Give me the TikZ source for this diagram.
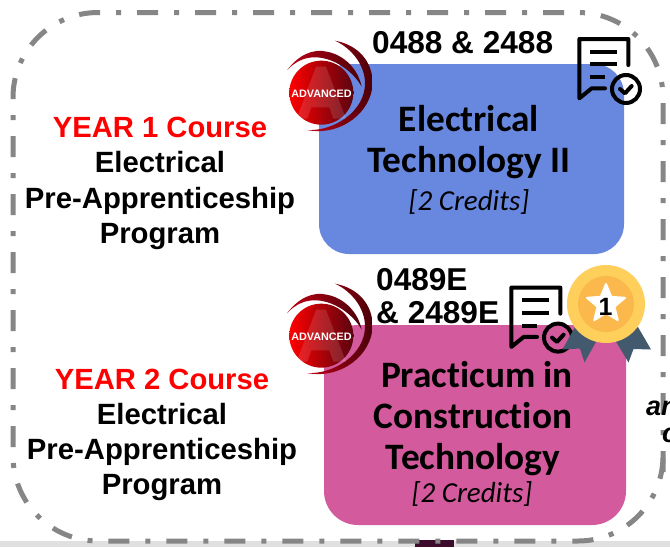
\documentclass[tikz,border=0pt]{standalone}
\usepackage{fontspec}
\setmainfont{Liberation Sans}
\newfontfamily\carlito[Ligatures={NoCommon}]{Carlito}
\usetikzlibrary{shapes.geometric}
\definecolor{bluebox}{HTML}{6888E0}
\definecolor{pinkbox}{HTML}{D45A9E}
\definecolor{dashgray}{HTML}{868686}
\definecolor{ribbon}{HTML}{43596D}
\definecolor{medalout}{HTML}{FFCF5C}
\definecolor{medalin}{HTML}{FBB84C}
\definecolor{stripdark}{HTML}{3D0C2C}
\tikzset{
  x=1pt,y=-1pt,
  framedash/.style={draw=dashgray,line width=5pt,dash pattern=on 21pt off 16pt on 5pt off 16pt},
  sidetext/.style={font=\fontsize{29.3}{35.2}\selectfont\bfseries,align=center,inner sep=0pt},
  yeartext/.style={font=\fontsize{29.2}{35}\selectfont\bfseries,text=red,inner sep=0pt},
  codetext/.style={font=\fontsize{31.6}{33}\selectfont\bfseries,align=left,inner sep=0pt},
  boxtext/.style={font=\carlito\fontsize{37.3}{41}\selectfont\bfseries,align=center,inner sep=0pt},
  credit/.style={font=\carlito\fontsize{29}{30}\selectfont\itshape,inner sep=0pt},
  iconline/.style={draw=black,line width=4pt,line cap=round,line join=round},
  badgetext/.style={font=\fontsize{10.8}{11}\selectfont\bfseries,text=white,inner sep=0pt}
}
\newcommand{\advbadge}[3]{%
\begin{scope}[shift={(#1,#2)},x=0.3333pt,y=-0.3333pt]
  \shade[left color=E0,right color=M0]
    (195,62) .. controls (265,75) and (308,125) .. (308,190)
    .. controls (305,275) and (215,350) .. (110,330)
    .. controls (190,335) and (285,275) .. (285,190)
    .. controls (285,135) and (245,85) .. (195,62) -- cycle;
  \shade[left color=E0,right color=M0]
    (52,150) .. controls (85,105) and (130,85) .. (170,95)
    .. controls (225,105) and (265,150) .. (275,200)
    .. controls (250,155) and (195,115) .. (140,112)
    .. controls (105,110) and (75,125) .. (52,150) -- cycle;
  \shade[left color=E1,right color=M1] (154,218) circle[radius=96];
  \fill[white,opacity=.13] (138,140) -- (168,140) -- (228,296) -- (190,296) -- (178,262) -- (124,262) -- (112,296) -- (80,296) -- cycle;
\end{scope}
\node[badgetext] (#3) at (#1+51.5,#2+73.5) {ADVANCED};
}
\newcommand{\docicon}[3]{%
\begin{scope}[shift={(#1,#2)},x=0.3333pt,y=-0.3333pt]
  \draw[iconline] (205,135) -- (205,57) -- (58,57) -- (58,235) -- (95,205) -- (135,205);
  \draw[iconline,line cap=butt] (90,95) -- (170,95) (90,133) -- (170,133) (90,172) -- (135,172);
  \draw[draw=black,line width=4pt] (198,207) circle[radius=42];
  \draw[iconline] (180,207) -- (195,220) -- (215,198);
\end{scope}
\coordinate (#3) at (#1+66,#2+69);
}
\definecolor{E0}{HTML}{C00018}
\definecolor{M0}{HTML}{4A0008}
\colorlet{E1}{red}
\definecolor{M1}{HTML}{5A0410}
\begin{document}
\begin{tikzpicture}
\useasboundingbox (0,0) rectangle (670,547);
\fill[white] (0,0) rectangle (670,547);
% bottom strip
\fill[black!12] (0,541) rectangle (670,547);
\fill[stripdark] (415,540) rectangle (454,547);
% dash-dot frame: two runs that meet low on the right side
\draw[framedash]
  (564,12.5) -- (98,12.5) .. controls (51.1,12.5) and (13,50.6) .. (13,97.5)
  -- (13,456) .. controls (13,502.9) and (51.1,541) .. (98,541)
  -- (578,541) .. controls (624.9,541) and (663,502.9) .. (663,456)
  -- (663,464);
\draw[framedash,dash phase=21pt]
  (564,12.5) -- (578,12.5) .. controls (624.9,12.5) and (663,50.6) .. (663,97.5)
  -- (663,473);
% boxes
\node[fill=bluebox,rounded corners=30pt,minimum width=305pt,minimum height=190pt,inner sep=0pt] (box1) at (471.5,159) {};
\node[fill=pinkbox,rounded corners=34pt,minimum width=302pt,minimum height=200pt,inner sep=0pt] (box2) at (475,425) {};
% badges
\advbadge{270}{20}{badgeone}
\advbadge{270}{263}{badgetwo}
% icons
\docicon{560}{20}{iconone}
\docicon{492}{268.6}{icontwo}
% medal
\fill[ribbon] (575,327) -- (562.5,349.5) -- (580,348.5) -- (584.5,362.5) -- (597,340) -- cycle;
\fill[ribbon] (638,327) -- (651,349.5) -- (633.5,349) -- (628.5,362.5) -- (615,340) -- cycle;
\node[circle,fill=medalout,minimum size=78pt,inner sep=0pt] (medal) at (606,304) {};
\node[circle,fill=medalin,minimum size=56pt,inner sep=0pt] (medalcore) at (606,304) {};
\node[star,star points=5,star point ratio=2.25,fill=white,draw=white,line join=round,line width=2pt,minimum size=40pt,inner sep=0pt] (medalstar) at (606,304) {};
\node[font=\fontsize{25}{25}\selectfont\bfseries,inner sep=0pt] (medalnum) at (605.5,307) {1};
% codes
\node[codetext,anchor=west] (codeone) at (372,43) {0488 \& 2488};
\node[codetext,anchor=west] (codetwo) at (376,296.5) {0489E\\\& 2489E};
% box text
\node[boxtext] (titleone) at (469,142) {Electrical\\Technology II};
\node[credit] (creditone) at (469,201.5) {[2 Credits]};
\node[boxtext] (titletwo) at (473,418.5) {\hspace*{8pt}Practicum in\\Construction\\Technology};
\node[credit] (credittwo) at (472,493.5) {[2 Credits]};
% side text
\node[yeartext] (yearone) at (160,127) {YEAR 1 Course};
\node[sidetext] (sideone) at (160,200.5) {Electrical\\Pre-Apprenticeship\\Program};
\node[yeartext] (yeartwo) at (162,379) {YEAR 2 Course};
\node[sidetext] (sidetwo) at (162,452) {Electrical\\Pre-Apprenticeship\\Program};
% text cut by the right edge, as in the reference
\begin{scope}
\clip (0,0) rectangle (670,547);
\node[font=\fontsize{27}{27}\selectfont\bfseries\itshape,anchor=west,inner sep=0pt] (cutone) at (646,408) {an};
\node[font=\fontsize{27}{27}\selectfont\bfseries\itshape,anchor=west,inner sep=0pt] (cuttwo) at (662,435) {c};
\end{scope}
\end{tikzpicture}
\end{document}
